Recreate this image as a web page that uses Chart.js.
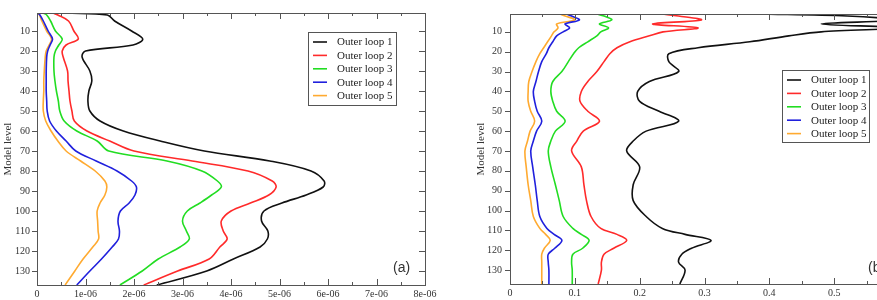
<!DOCTYPE html>
<html lang="en">
<head>
<meta charset="UTF-8">
<title>Outer loop profiles</title>
<script src="https://cdn.jsdelivr.net/npm/chart.js"></script>
<style>
  body { margin: 0; width: 877px; height: 300px; overflow: hidden; background: #fff; position: relative; }
  .panel { position: absolute; top: 0; }
  #panelA { left: 0; }
  #panelB { left: 440px; }
</style>
</head>
<body>
<div class="panel" id="panelA"><canvas id="chartA" width="440" height="300"></canvas></div>
<div class="panel" id="panelB"><canvas id="chartB" width="475" height="300"></canvas></div>

<script>
const loopNames = ['Outer loop 1', 'Outer loop 2', 'Outer loop 3', 'Outer loop 4', 'Outer loop 5'];
const loopColors = ['#111111', '#ff2a2a', '#22dd22', '#2020dd', '#ffaa30'];

const yTicks = [10, 20, 30, 40, 50, 60, 70, 80, 90, 100, 110, 120, 130];

// panel (a) - values in units of 1e-06
const levelsA = [1, 2, 5, 10, 14, 17, 20, 23, 30, 35, 40, 45, 50, 55, 60, 65, 70, 75, 80, 85, 88, 92, 96, 100, 105, 110, 114, 118, 124, 130, 137];
const loop1A = [0.6, 1.45, 1.6, 1.95, 2.18, 1.98, 1.0, 0.93, 1.09, 1.13, 1.07, 1.05, 1.09, 1.3, 1.78, 2.54, 3.45, 4.8, 5.65, 5.92, 5.9, 5.55, 5.05, 4.68, 4.63, 4.76, 4.75, 4.6, 4.05, 3.5, 2.47];
const loop2A = [0.33, 0.43, 0.65, 0.76, 0.85, 0.6, 0.52, 0.54, 0.63, 0.64, 0.66, 0.68, 0.72, 0.77, 1.03, 1.5, 2.0, 3.2, 4.35, 4.85, 4.93, 4.78, 4.4, 4.0, 3.8, 3.84, 3.92, 3.77, 3.55, 2.9, 2.2];
const loop3A = [0.12, 0.2, 0.28, 0.38, 0.52, 0.45, 0.38, 0.35, 0.35, 0.37, 0.4, 0.44, 0.47, 0.56, 0.82, 1.24, 1.48, 2.68, 3.4, 3.72, 3.8, 3.6, 3.36, 3.1, 3.0, 3.08, 3.14, 2.95, 2.5, 2.17, 1.71];
const loop4A = [0.02, 0.06, 0.13, 0.23, 0.32, 0.27, 0.22, 0.2, 0.19, 0.19, 0.19, 0.2, 0.21, 0.26, 0.4, 0.6, 0.8, 1.22, 1.65, 1.95, 2.05, 2.02, 1.9, 1.72, 1.67, 1.7, 1.68, 1.55, 1.33, 1.09, 0.82];
const loop5A = [0.02, 0.05, 0.1, 0.2, 0.3, 0.25, 0.19, 0.17, 0.15, 0.14, 0.14, 0.13, 0.13, 0.18, 0.29, 0.43, 0.6, 0.9, 1.2, 1.4, 1.44, 1.4, 1.3, 1.24, 1.25, 1.26, 1.27, 1.15, 0.95, 0.78, 0.58];
const xTicksA = [0, 1, 2, 3, 4, 5, 6, 7, 8];
const xLabelsA = ['0', '1e-06', '2e-06', '3e-06', '4e-06', '5e-06', '6e-06', '7e-06', '8e-06'];

// panel (b)
const levelsB = [1, 2, 4, 6, 8, 10, 12, 15, 18, 21, 25, 30, 35, 40, 45, 50, 55, 60, 65, 70, 78, 87, 95, 103, 109, 112, 115, 119, 122, 126, 130, 137];
const loop1B = [0.38, 0.52, 0.6, 0.48, 0.6, 0.48, 0.43, 0.37, 0.29, 0.245, 0.245, 0.26, 0.215, 0.197, 0.2, 0.23, 0.26, 0.21, 0.19, 0.18, 0.2, 0.19, 0.19, 0.21, 0.235, 0.27, 0.31, 0.28, 0.265, 0.26, 0.27, 0.262];
const loop2B = [0.234, 0.26, 0.295, 0.22, 0.29, 0.236, 0.215, 0.185, 0.165, 0.154, 0.145, 0.134, 0.12, 0.11, 0.108, 0.12, 0.138, 0.113, 0.103, 0.095, 0.11, 0.114, 0.118, 0.125, 0.14, 0.165, 0.18, 0.16, 0.145, 0.141, 0.141, 0.136];
const loop3B = [0.134, 0.145, 0.157, 0.138, 0.152, 0.14, 0.134, 0.12, 0.106, 0.098, 0.09, 0.08, 0.066, 0.063, 0.066, 0.072, 0.085, 0.07, 0.063, 0.059, 0.063, 0.07, 0.076, 0.082, 0.097, 0.11, 0.122, 0.112, 0.097, 0.095, 0.096, 0.096];
const loop4B = [0.087, 0.095, 0.107, 0.085, 0.092, 0.082, 0.072, 0.066, 0.06, 0.056, 0.049, 0.044, 0.04, 0.036, 0.038, 0.042, 0.049, 0.041, 0.036, 0.032, 0.035, 0.039, 0.042, 0.046, 0.057, 0.068, 0.08, 0.069, 0.059, 0.059, 0.06, 0.06];
const loop5B = [0.077, 0.085, 0.1, 0.072, 0.074, 0.068, 0.064, 0.058, 0.052, 0.046, 0.04, 0.034, 0.029, 0.028, 0.028, 0.032, 0.038, 0.031, 0.027, 0.023, 0.025, 0.028, 0.032, 0.036, 0.046, 0.055, 0.062, 0.053, 0.049, 0.049, 0.049, 0.049];
const xTicksB = [0, 0.1, 0.2, 0.3, 0.4, 0.5, 0.6];
const xLabelsB = ['0', '0.1', '0.2', '0.3', '0.4', '0.5', '0.6'];

const serif = 'Liberation Serif, Times New Roman, serif';
const textColor = '#333';
const frameColor = '#555';

// frame, inward/outward ticks, legend box and panel tag
const framePlugin = {
  id: 'frame',
  afterDraw(chart, args, o) {
    const { ctx, chartArea: a, scales } = chart;
    ctx.save();
    ctx.strokeStyle = frameColor;
    ctx.lineWidth = 1;
    ctx.strokeRect(Math.round(a.left) + 0.5, Math.round(a.top) + 0.5, Math.round(a.right - a.left), Math.round(a.bottom - a.top));

    ctx.beginPath();
    const xs = o.xTicks;
    for (let i = 0; i < xs.length; i++) {
      const px = Math.round(scales.x.getPixelForValue(xs[i])) + 0.5;
      ctx.moveTo(px, a.bottom); ctx.lineTo(px, a.bottom - 6);
      ctx.moveTo(px, a.top); ctx.lineTo(px, a.top + 6);
      if (i < xs.length - 1) {
        const pm = Math.round(scales.x.getPixelForValue((xs[i] + xs[i + 1]) / 2)) + 0.5;
        ctx.moveTo(pm, a.bottom); ctx.lineTo(pm, a.bottom - 3);
        ctx.moveTo(pm, a.top); ctx.lineTo(pm, a.top + 3);
      }
    }
    for (const v of yTicks) {
      const py = Math.round(scales.y.getPixelForValue(v)) + 0.5;
      ctx.moveTo(a.left - 5, py); ctx.lineTo(a.left, py);
      ctx.moveTo(a.right, py); ctx.lineTo(a.right - 6, py);
    }
    ctx.stroke();

    // legend
    const L = o.legend;
    ctx.fillStyle = '#fff';
    ctx.fillRect(L.x, L.y, L.w, L.h);
    ctx.strokeRect(L.x + 0.5, L.y + 0.5, L.w, L.h);
    ctx.font = '11px ' + serif;
    ctx.textBaseline = 'middle';
    chart.data.datasets.forEach((ds, i) => {
      const y = L.y + 10 + i * 13.4;
      ctx.strokeStyle = ds.borderColor;
      ctx.lineWidth = 1.6;
      ctx.beginPath();
      ctx.moveTo(L.x + 5, y); ctx.lineTo(L.x + 19, y);
      ctx.stroke();
      ctx.fillStyle = '#222';
      ctx.fillText(ds.label, L.x + 29, y + 0.5);
    });

    ctx.fillStyle = textColor;
    ctx.font = '14px Liberation Sans, Arial, sans-serif';
    ctx.fillText(o.tag, o.tagX, o.tagY);
    ctx.restore();
  }
};

function makeDatasets(levels, series) {
  return series.map((vals, i) => ({
    label: loopNames[i],
    data: levels.map((lv, k) => ({ x: vals[k], y: lv })),
    borderColor: loopColors[i],
    borderWidth: 1.6,
    pointRadius: 0,
    showLine: true,
    tension: 0.35,
    fill: false
  }));
}

function makeChart(id, levels, series, xMax, xTicks, xLabels, cfg) {
  return new Chart(document.getElementById(id), {
    type: 'scatter',
    data: { datasets: makeDatasets(levels, series) },
    options: {
      responsive: false,
      animation: false,
      layout: { padding: { top: cfg.top, right: cfg.right, left: 0, bottom: 0 } },
      plugins: {
        legend: { display: false },
        tooltip: { enabled: false },
        frame: { xTicks: xTicks, legend: cfg.legend, tag: cfg.tag, tagX: cfg.tagX, tagY: cfg.tagY }
      },
      scales: {
        x: {
          type: 'linear',
          min: 0,
          max: xMax,
          grid: { display: false, drawTicks: false },
          border: { display: false },
          afterBuildTicks: s => { s.ticks = xTicks.map(v => ({ value: v })); },
          afterFit: s => { s.height = cfg.xHeight; s.paddingLeft = 0; s.paddingRight = 0; },
          ticks: {
            callback: (v, i) => xLabels[i],
            font: { family: serif, size: 10 },
            color: textColor,
            padding: 3,
            maxRotation: 0,
            autoSkip: false
          }
        },
        y: {
          type: 'linear',
          reverse: true,
          min: 1,
          max: 137,
          grid: { display: false, drawTicks: false },
          border: { display: false },
          afterBuildTicks: s => { s.ticks = yTicks.map(v => ({ value: v })); },
          afterFit: s => { s.width = cfg.yWidth; },
          ticks: {
            font: { family: serif, size: 10 },
            color: textColor,
            padding: cfg.yPad,
            autoSkip: false
          },
          title: {
            display: true,
            text: 'Model level',
            font: { family: serif, size: 11 },
            color: textColor,
            padding: { top: cfg.titlePad, bottom: 0 }
          }
        }
      }
    },
    plugins: [framePlugin]
  });
}

makeChart('chartA', levelsA, [loop1A, loop2A, loop3A, loop4A, loop5A], 8, xTicksA, xLabelsA, {
  top: 13, right: 15, xHeight: 15, yWidth: 37, yPad: 7, titlePad: 2,
  legend: { x: 308, y: 32, w: 88, h: 73 },
  tag: '(a)', tagX: 393, tagY: 268
});

makeChart('chartB', levelsB, [loop1B, loop2B, loop3B, loop4B, loop5B], 0.6, xTicksB, xLabelsB, {
  top: 12, right: 16, xHeight: 16, yWidth: 70, yPad: 8, titlePad: 35,
  legend: { x: 342, y: 70, w: 87, h: 72 },
  tag: '(b)', tagX: 428, tagY: 268
});
</script>
</body>
</html>
